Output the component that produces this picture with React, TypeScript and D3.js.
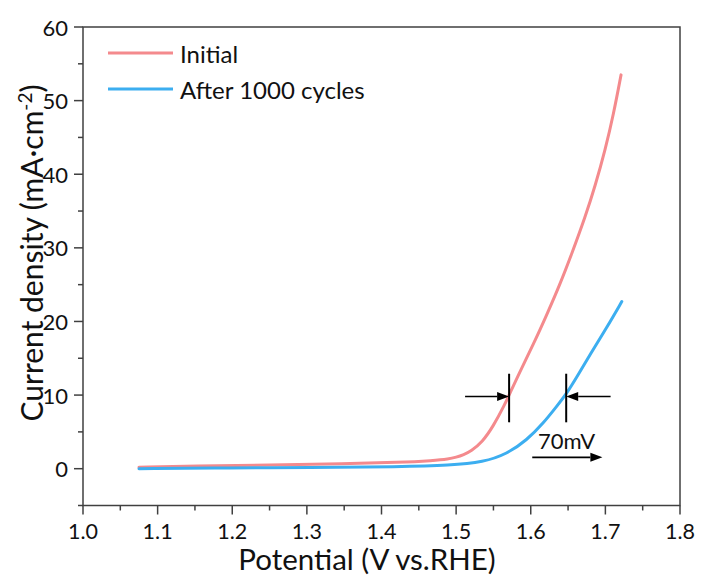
import React from "react";
import * as d3 from "d3";

const initialX = [1.075, 1.15, 1.25, 1.35, 1.425, 1.469, 1.49, 1.5, 1.51, 1.52, 1.535, 1.55, 1.565, 1.571, 1.586, 1.604, 1.621, 1.639, 1.655, 1.673, 1.686, 1.7, 1.711, 1.721];
const initialY = [0.2, 0.35, 0.5, 0.65, 0.85, 1.1, 1.3, 1.55, 1.9, 2.4, 3.6, 5.8, 8.7, 10.0, 13.3, 17.0, 20.8, 25.0, 29.2, 34.2, 38.3, 43.4, 48.2, 53.5];
const cycledX = [1.075, 1.2, 1.3, 1.425, 1.492, 1.537, 1.568, 1.595, 1.617, 1.635, 1.648, 1.662, 1.68, 1.702, 1.722];
const cycledY = [0.0, 0.1, 0.15, 0.27, 0.45, 0.9, 2.0, 3.9, 6.2, 8.5, 10.2, 12.5, 15.6, 19.2, 22.7];

const seriesNames = ["Initial", "After 1000 cycles"];
const seriesColors = ["#F48A8D", "#3CAEF0"];

const xTicks = [1.0, 1.1, 1.2, 1.3, 1.4, 1.5, 1.6, 1.7, 1.8];
const xMinor = [1.05, 1.15, 1.25, 1.35, 1.45, 1.55, 1.65, 1.75];
const yTicks = [0, 10, 20, 30, 40, 50, 60];
const yMinor = [-5, 5, 15, 25, 35, 45, 55];

const markerX = [1.571, 1.6475];
const markerYRange = [6.3, 12.9];
const arrowFrom = [[1.512, 9.8], [1.707, 9.8], [1.602, 1.54]];
const arrowTo = [[1.571, 9.8], [1.6475, 9.8], [1.696, 1.54]];
const annotationText = "70mV";
const annotationPos = [1.648, 2.7];

const W = 701, H = 577;
const M = { left: 83, right: 680, top: 27, bottom: 505.5 };
const FONT = "Lato, 'Open Sans', sans-serif";

export default function App() {
  const x = d3.scaleLinear().domain([1.0, 1.8]).range([M.left, M.right]);
  const y = d3.scaleLinear().domain([-5, 60]).range([M.bottom, M.top]);
  const line = d3
    .line<[number, number]>()
    .x((d) => x(d[0]))
    .y((d) => y(d[1]))
    .curve(d3.curveBasis);
  const series = [
    initialX.map((v, i) => [v, initialY[i]] as [number, number]),
    cycledX.map((v, i) => [v, cycledY[i]] as [number, number]),
  ];
  const axisColor = "#404040";

  const arrow = (from: number[], to: number[], key: number) => {
    const x1 = x(from[0]), y1 = y(from[1]), x2 = x(to[0]), y2 = y(to[1]);
    const dir = Math.sign(x2 - x1);
    const hl = 12, hw = 4.5;
    return (
      <g key={key}>
        <line x1={x1} y1={y1} x2={x2 - dir * hl} y2={y2} stroke="#000" strokeWidth={1.6} />
        <path d={`M${x2},${y2} L${x2 - dir * hl},${y2 - hw} L${x2 - dir * hl},${y2 + hw} Z`} fill="#000" />
      </g>
    );
  };

  return (
    <svg width={W} height={H} style={{ position: "absolute", left: 0, top: 0, background: "#fff" }} fontFamily={FONT}>
      <rect x={0} y={0} width={W} height={H} fill="#fff" />
      {series.map((s, i) => (
        <path key={i} d={line(s) || ""} fill="none" stroke={seriesColors[i]} strokeWidth={3} strokeLinecap="round" />
      ))}
      <rect x={M.left} y={M.top} width={M.right - M.left} height={M.bottom - M.top} fill="none" stroke={axisColor} strokeWidth={1.5} />
      {xTicks.map((t) => (
        <g key={"xt" + t}>
          <line x1={x(t)} x2={x(t)} y1={M.bottom} y2={M.bottom + 9} stroke={axisColor} strokeWidth={1.5} />
          <text x={x(t)} y={539} textAnchor="middle" fontSize={21.5} fill="#111">
            {t.toFixed(1)}
          </text>
        </g>
      ))}
      {xMinor.map((t) => (
        <line key={"xm" + t} x1={x(t)} x2={x(t)} y1={M.bottom} y2={M.bottom + 5} stroke={axisColor} strokeWidth={1.5} />
      ))}
      {yTicks.map((t) => (
        <g key={"yt" + t}>
          <line x1={M.left - 9} x2={M.left} y1={y(t)} y2={y(t)} stroke={axisColor} strokeWidth={1.5} />
          <text x={M.left - 15} y={y(t)} textAnchor="end" dominantBaseline="central" fontSize={22} fill="#111">
            {t}
          </text>
        </g>
      ))}
      {yMinor.map((t) => (
        <line key={"ym" + t} x1={M.left - 5} x2={M.left} y1={y(t)} y2={y(t)} stroke={axisColor} strokeWidth={1.5} />
      ))}
      <text x={367} y={570} textAnchor="middle" fontSize={29.5} fill="#111">
        Potential (V vs.RHE)
      </text>
      <text transform={`translate(43,253) rotate(-90)`} textAnchor="middle" fontSize={30} fill="#111">
        Current density (mA·cm<tspan dy={-11} fontSize={19}>-2</tspan><tspan dy={11}>)</tspan>
      </text>
      {seriesNames.map((n, i) => (
        <g key={n}>
          <line x1={108} x2={173} y1={53 + i * 36} y2={53 + i * 36} stroke={seriesColors[i]} strokeWidth={3} />
          <text x={180} y={53 + i * 36} dominantBaseline="central" fontSize={24} fill="#111">
            {n}
          </text>
        </g>
      ))}
      {markerX.map((m) => (
        <line key={"mk" + m} x1={x(m)} x2={x(m)} y1={y(markerYRange[0])} y2={y(markerYRange[1])} stroke="#000" strokeWidth={2} />
      ))}
      {arrowFrom.map((f, i) => arrow(f, arrowTo[i], i))}
      <text x={x(annotationPos[0])} y={y(annotationPos[1])} textAnchor="middle" fontSize={22} fill="#111">
        {annotationText}
      </text>
    </svg>
  );
}
